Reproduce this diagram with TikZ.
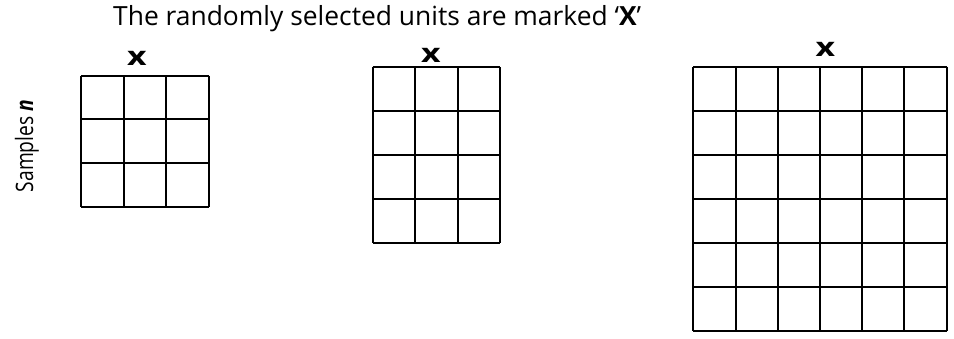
\documentclass[tikz,border=0pt]{standalone}
\usepackage{fontspec}
\setmainfont{Open Sans}
\begin{document}
\begin{tikzpicture}[x=1pt,y=-1pt,
  gridline/.style={line width=2pt,black},
  marker/.style={font=\fontsize{26}{26}\selectfont\bfseries,inner sep=0pt,xscale=1.3},
  title/.style={font=\fontsize{26.4}{30}\selectfont,inner sep=0pt,anchor=west}]
\useasboundingbox[fill=white] (0,0) rectangle (954,338);
\node[title] (t) at (113,19) {The randomly selected units are marked ‘\textbf{X}’};
\node[font=\fontsize{24}{24}\selectfont,inner sep=0pt,rotate=90,xscale=0.8] (s) at (27,146) {Samples \textbf{\itshape n}};
% grid 1: 3x3
\foreach \i in {0,...,3} {
  \draw[gridline] ({81+\i*42.67},75.7) -- ({81+\i*42.67},207);
  \draw[gridline] (81,{75.7+\i*43.77}) -- (209,{75.7+\i*43.77});
}
% grid 2: 3 cols x 4 rows
\foreach \i in {0,...,3}
  \draw[gridline] ({372.7+\i*42.43},67.3) -- ({372.7+\i*42.43},242.7);
\foreach \j in {0,...,4}
  \draw[gridline] (372.7,{67.3+\j*43.85}) -- (500,{67.3+\j*43.85});
% grid 3: 6x6
\foreach \i in {0,...,6} {
  \draw[gridline] ({693.3+\i*42.23},66.7) -- ({693.3+\i*42.23},331);
  \draw[gridline] (693.3,{66.7+\i*44.05}) -- (946.7,{66.7+\i*44.05});
}
\node[marker] (x1) at (137,58) {x};
\node[marker] (x2) at (431,55) {x};
\node[marker] (x3) at (825.5,49.5) {x};
\end{tikzpicture}
\end{document}
